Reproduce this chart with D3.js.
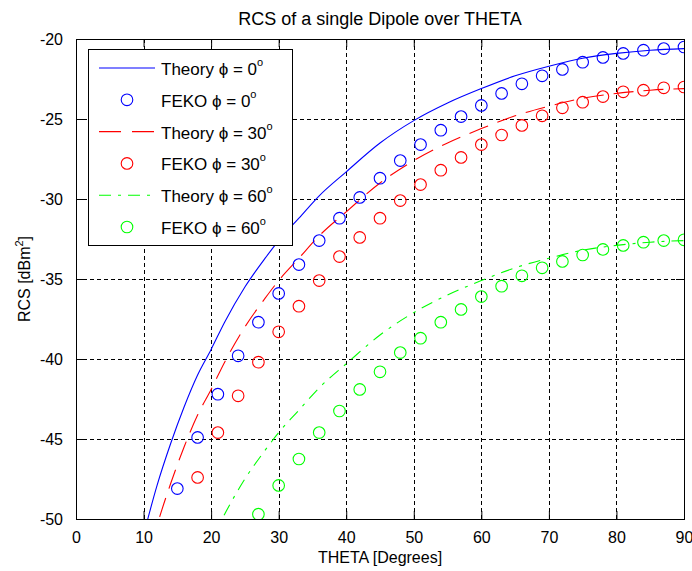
<!DOCTYPE html>
<html>
<head>
<meta charset="utf-8">
<script src="https://cdn.jsdelivr.net/npm/d3@7"></script>
<style>
  html, body { margin: 0; padding: 0; background: #fff; }
  svg text { font-family: "Liberation Sans", Arial, Helvetica, sans-serif; fill: #000; }
</style>
</head>
<body>
<svg id="chart" width="692" height="571"></svg>
<script>
// ---------- DATA ----------
const xTicks = [0, 10, 20, 30, 40, 50, 60, 70, 80, 90];
const yTicks = [-50, -45, -40, -35, -30, -25, -20];

const theoryTheta0  = [10, 12, 14, 16, 18, 20, 22, 25, 28, 30, 33, 36, 40, 45, 50, 55, 60, 65, 70, 75, 80, 85, 90];
const theoryPhi0    = [-51.0, -47.9, -45.3, -43.0, -41.0, -39.4, -37.7, -35.5, -33.7, -32.6, -31.2, -29.8, -28.3, -26.5, -25.1, -24.0, -23.1, -22.3, -21.7, -21.2, -20.9, -20.7, -20.6];
const theoryTheta30 = [10, 12, 14, 16, 18, 20, 22, 25, 28, 30, 33, 36, 40, 45, 50, 55, 60, 65, 70, 75, 80, 85, 90];
const theoryPhi30   = [-53.5, -50.4, -47.8, -45.5, -43.5, -41.9, -40.2, -38.0, -36.2, -35.1, -33.7, -32.3, -30.8, -29.0, -27.6, -26.5, -25.6, -24.8, -24.2, -23.7, -23.4, -23.2, -23.1];
const theoryTheta60 = [20, 22, 25, 28, 30, 33, 36, 40, 45, 50, 55, 60, 65, 70, 75, 80, 85, 90];
const theoryPhi60   = [-51.4, -49.7, -47.5, -45.7, -44.6, -43.2, -41.8, -40.3, -38.5, -37.1, -36.0, -35.1, -34.3, -33.7, -33.2, -32.9, -32.7, -32.6];

const fekoTheta0  = [15, 18, 21, 24, 27, 30, 33, 36, 39, 42, 45, 48, 51, 54, 57, 60, 63, 66, 69, 72, 75, 78, 81, 84, 87, 90];
const fekoPhi0    = [-48.1, -44.9, -42.2, -39.8, -37.7, -35.9, -34.1, -32.6, -31.2, -29.9, -28.7, -27.6, -26.6, -25.7, -24.85, -24.15, -23.4, -22.8, -22.3, -21.9, -21.45, -21.15, -20.9, -20.7, -20.6, -20.5];
const fekoTheta30 = [18, 21, 24, 27, 30, 33, 36, 39, 42, 45, 48, 51, 54, 57, 60, 63, 66, 69, 72, 75, 78, 81, 84, 87, 90];
const fekoPhi30   = [-47.4, -44.6, -42.3, -40.2, -38.3, -36.7, -35.1, -33.6, -32.4, -31.2, -30.1, -29.1, -28.2, -27.4, -26.6, -26.0, -25.4, -24.8, -24.3, -23.95, -23.6, -23.3, -23.2, -23.05, -23.0];
const fekoTheta60 = [27, 30, 33, 36, 39, 42, 45, 48, 51, 54, 57, 60, 63, 66, 69, 72, 75, 78, 81, 84, 87, 90];
const fekoPhi60   = [-49.7, -47.9, -46.25, -44.6, -43.25, -41.9, -40.8, -39.6, -38.7, -37.7, -36.9, -36.1, -35.45, -34.8, -34.3, -33.9, -33.5, -33.15, -32.9, -32.7, -32.6, -32.55];

const legendLabels = ["Theory \u03D5 = 0", "FEKO \u03D5 = 0", "Theory \u03D5 = 30", "FEKO \u03D5 = 30", "Theory \u03D5 = 60", "FEKO \u03D5 = 60"];

// ---------- LAYOUT ----------
const svg = d3.select("#chart");
const L = 76, R = 684, T = 39, B = 519;
const x = d3.scaleLinear().domain([0, 90]).range([L, R]);
const y = d3.scaleLinear().domain([-50, -20]).range([B, T]);

const BLUE = "#0000ff", RED = "#ff0000", GREEN = "#00ff00";

// clip
svg.append("defs").append("clipPath").attr("id", "plotclip")
  .append("rect").attr("x", L).attr("y", T).attr("width", R - L).attr("height", B - T);

// grid
const grid = svg.append("g").attr("stroke", "#000").attr("stroke-width", 1).attr("stroke-dasharray", "4,3").attr("shape-rendering", "crispEdges");
xTicks.slice(1, -1).forEach(t => {
  grid.append("line").attr("x1", Math.round(x(t)) + 0.5).attr("x2", Math.round(x(t)) + 0.5).attr("y1", T).attr("y2", B);
});
yTicks.slice(1, -1).forEach(t => {
  grid.append("line").attr("y1", Math.round(y(t)) + 0.5).attr("y2", Math.round(y(t)) + 0.5).attr("x1", L).attr("x2", R);
});

// axes
const tickLen = 8;
const fmt = d => String(d);  // plain hyphen-minus like MATLAB
const xAxisB = d3.axisBottom(x).tickValues(xTicks).tickSize(-tickLen).tickPadding(tickLen + 5).tickFormat(fmt);
const xAxisT = d3.axisTop(x).tickValues(xTicks).tickSize(-tickLen).tickFormat("");
const yAxisL = d3.axisLeft(y).tickValues(yTicks).tickSize(-tickLen).tickPadding(tickLen + 5).tickFormat(fmt);
const yAxisR = d3.axisRight(y).tickValues(yTicks).tickSize(-tickLen).tickFormat("");

function styleAxis(g) {
  g.select(".domain").remove();
  g.selectAll(".tick line").attr("stroke", "#000");
  g.selectAll("text").attr("font-size", 16).attr("fill", "#000")
    .style("font-family", "'Liberation Sans', Arial, sans-serif");
}
svg.append("g").attr("transform", `translate(0,${B})`).call(xAxisB).call(styleAxis);
svg.append("g").attr("transform", `translate(0,${T})`).call(xAxisT).call(styleAxis);
svg.append("g").attr("transform", `translate(${L},0)`).call(yAxisL).call(styleAxis);
svg.append("g").attr("transform", `translate(${R},0)`).call(yAxisR).call(styleAxis);

svg.append("rect").attr("x", L + 0.5).attr("y", T + 0.5).attr("width", R - L).attr("height", B - T)
  .attr("fill", "none").attr("stroke", "#000").attr("stroke-width", 1).attr("shape-rendering", "crispEdges");

// data
const plot = svg.append("g").attr("clip-path", "url(#plotclip)");
const lineGen = d3.line().x(d => x(d[0])).y(d => y(d[1])).curve(d3.curveMonotoneX);
const zip = (a, b) => a.map((v, i) => [v, b[i]]);

const theorySeries = [
  { data: zip(theoryTheta0, theoryPhi0), color: BLUE, dash: null },
  { data: zip(theoryTheta30, theoryPhi30), color: RED, dash: "20,10" },
  { data: zip(theoryTheta60, theoryPhi60), color: GREEN, dash: "12,7,3,7" }
];
const fekoSeries = [
  { data: zip(fekoTheta0, fekoPhi0), color: BLUE },
  { data: zip(fekoTheta30, fekoPhi30), color: RED },
  { data: zip(fekoTheta60, fekoPhi60), color: GREEN }
];

theorySeries.forEach(s => {
  plot.append("path").attr("d", lineGen(s.data)).attr("fill", "none")
    .attr("stroke", s.color).attr("stroke-width", 1.1)
    .attr("stroke-dasharray", s.dash);
});
fekoSeries.forEach(s => {
  plot.append("g").selectAll("circle").data(s.data).join("circle")
    .attr("cx", d => x(d[0])).attr("cy", d => y(d[1])).attr("r", 5.8)
    .attr("fill", "none").attr("stroke", s.color).attr("stroke-width", 1.1);
});

// title & labels
svg.append("text").attr("x", (L + R) / 2).attr("y", 25).attr("text-anchor", "middle")
  .attr("font-size", 18).text("RCS of a single Dipole over THETA");
svg.append("text").attr("x", (L + R) / 2).attr("y", 563).attr("text-anchor", "middle")
  .attr("font-size", 16).text("THETA [Degrees]");
const yl = svg.append("text").attr("transform", `translate(30,${(T + B) / 2}) rotate(-90)`)
  .attr("text-anchor", "middle").attr("font-size", 16);
yl.append("tspan").text("RCS [dBm");
yl.append("tspan").attr("font-size", 11).attr("dy", -7).text("2");
yl.append("tspan").attr("dy", 7).text("]");

// legend
const lg = svg.append("g");
const LX = 88, LY = 49, LW = 204, LH = 196;
lg.append("rect").attr("x", LX + 0.5).attr("y", LY + 0.5).attr("width", LW).attr("height", LH)
  .attr("fill", "#fff").attr("stroke", "#000").attr("stroke-width", 1).attr("shape-rendering", "crispEdges");
const rowH = 31.8;
const items = [
  { type: "line", color: BLUE, dash: null },
  { type: "circle", color: BLUE },
  { type: "line", color: RED, dash: "22,11" },
  { type: "circle", color: RED },
  { type: "line", color: GREEN, dash: "12,7,3,7" },
  { type: "circle", color: GREEN }
];
items.forEach((it, i) => {
  const cy = LY + 19 + i * rowH;
  if (it.type === "line") {
    lg.append("line").attr("x1", 99).attr("x2", 155).attr("y1", cy).attr("y2", cy)
      .attr("stroke", it.color).attr("stroke-width", 1.1).attr("stroke-dasharray", it.dash);
  } else {
    lg.append("circle").attr("cx", 127).attr("cy", cy).attr("r", 5.8)
      .attr("fill", "none").attr("stroke", it.color).attr("stroke-width", 1.1);
  }
  const t = lg.append("text").attr("x", 161).attr("y", cy + 7).attr("font-size", 17);
  t.append("tspan").text(legendLabels[i]);
  t.append("tspan").attr("font-size", 11).attr("dy", -9).text("o");
});
</script>
</body>
</html>
